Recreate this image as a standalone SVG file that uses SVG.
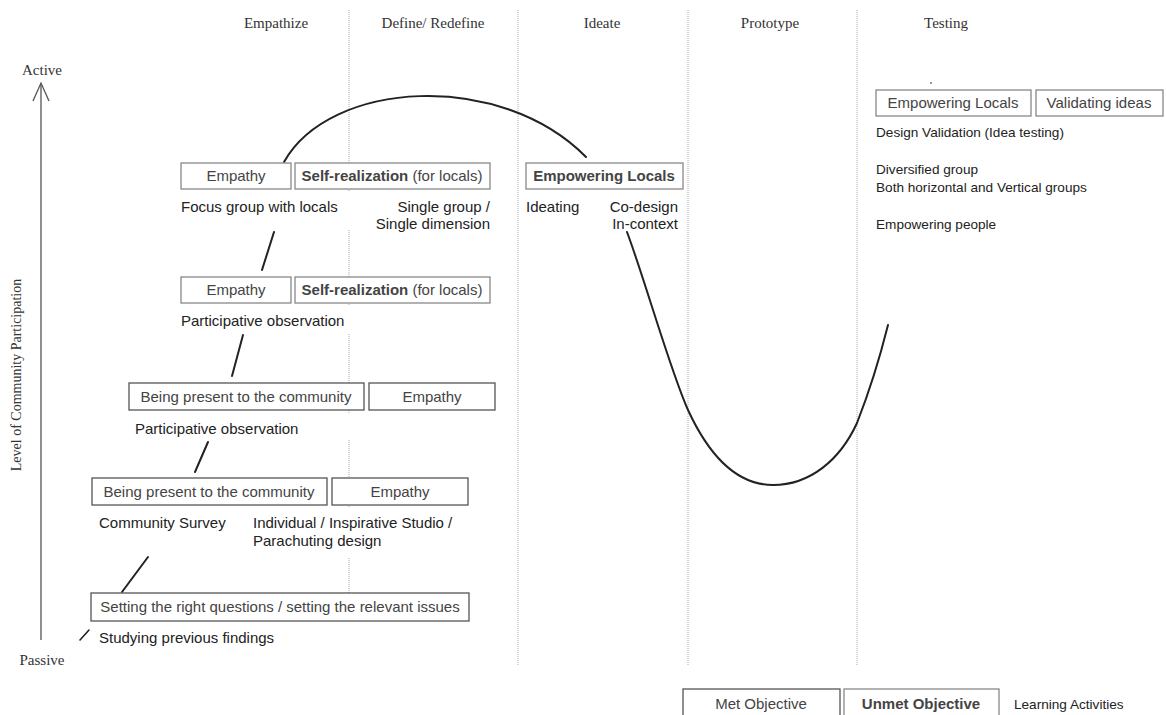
<svg xmlns="http://www.w3.org/2000/svg" width="1166" height="715" viewBox="0 0 1166 715">
<style>
.hdr{font-family:"Liberation Serif",serif;font-size:15px;fill:#333;text-anchor:middle}
.ax{font-family:"Liberation Serif",serif;font-size:14px;fill:#333;text-anchor:middle}
.t{font-family:"Liberation Sans",Arial,sans-serif;font-size:15px;fill:#222}
.s{font-size:13.6px}
.r{text-anchor:end}
.bt{font-family:"Liberation Sans",Arial,sans-serif;font-size:15px;fill:#444;text-anchor:middle}
.b{font-weight:bold}
.met{fill:#fff;stroke:#555;stroke-width:1.3}
.unmet{fill:#fff;stroke:#888;stroke-width:1.3}
.dot{stroke:#aaa;stroke-width:1;stroke-dasharray:1 1;fill:none}
.conn{stroke:#222;stroke-width:2;fill:none;stroke-linecap:round}
.axis{stroke:#555;stroke-width:1.3;fill:none}
.bg{fill:#fff}
</style>
<rect width="1166" height="715" fill="#fff"/>
<g id="phase-lines">
<line class="dot" x1="349" y1="10" x2="349" y2="593"/>
<line class="dot" x1="518" y1="10" x2="518" y2="665"/>
<line class="dot" x1="688" y1="10" x2="688" y2="665"/>
<line class="dot" x1="857" y1="10" x2="857" y2="665"/>
</g>
<g id="headers">
<text class="hdr" x="276" y="28">Empathize</text>
<text class="hdr" x="433" y="28">Define/ Redefine</text>
<text class="hdr" x="602" y="28">Ideate</text>
<text class="hdr" x="770" y="28">Prototype</text>
<text class="hdr" x="946" y="28">Testing</text>
</g>
<g id="axis">
<line class="axis" x1="41" y1="84" x2="41" y2="640"/>
<polyline class="axis" points="33,101 41,83 49,101"/>
<text class="hdr" x="42" y="75">Active</text>
<text class="hdr" x="42" y="665">Passive</text>
<text class="ax" transform="translate(21,375) rotate(-90)">Level of Community Participation</text>
</g>
<g id="label-backgrounds">
<rect class="bg" x="178" y="192" width="314" height="38"/>
<rect class="bg" x="178" y="306" width="314" height="27"/>
<rect class="bg" x="130" y="413" width="368" height="27"/>
<rect class="bg" x="92" y="508" width="378" height="50"/>
<rect class="bg" x="75" y="624" width="396" height="41"/>
</g>
<g id="connectors">
<path class="conn" d="M284,162 C330,80 500,70 586,157"/>
<path class="conn" d="M627,232 C645,280 670,370 688,410 C712,462 740,485 773,485 C810,485 840,460 857,423 C868,395 878,365 888,325"/>
<line class="conn" x1="262" y1="270" x2="274" y2="232"/>
<line class="conn" x1="232" y1="376" x2="243" y2="335"/>
<line class="conn" x1="195" y1="472" x2="208" y2="442"/>
<line class="conn" x1="122" y1="592" x2="148" y2="557"/>
<line class="conn" x1="80" y1="640" x2="89" y2="630" style="stroke-width:1.6"/>
</g>
<g id="row1-empathy">
<rect class="unmet" x="181" y="163" width="110" height="26"/>
<text class="bt" x="236" y="181">Empathy</text>
<text class="t" x="181" y="212">Focus group with locals</text>
</g>
<g id="row1-self-realization">
<rect class="unmet" x="295" y="163" width="195" height="26"/>
<text class="bt" x="392" y="181"><tspan class="b">Self-realization</tspan> (for locals)</text>
<text class="t r" x="490" y="212">Single group /</text>
<text class="t r" x="490" y="229">Single dimension</text>
</g>
<g id="row2-empathy">
<rect class="unmet" x="181" y="277" width="110" height="26"/>
<text class="bt" x="236" y="295">Empathy</text>
<text class="t" x="181" y="326">Participative observation</text>
</g>
<g id="row2-self-realization">
<rect class="unmet" x="295" y="277" width="195" height="26"/>
<text class="bt" x="392" y="295"><tspan class="b">Self-realization</tspan> (for locals)</text>
</g>
<g id="row3-being-present">
<rect class="met" x="129" y="383" width="235" height="27"/>
<text class="bt" x="246" y="402">Being present to the community</text>
<text class="t" x="135" y="434">Participative observation</text>
</g>
<g id="row3-empathy">
<rect class="met" x="369" y="383" width="126" height="27"/>
<text class="bt" x="432" y="402">Empathy</text>
</g>
<g id="row4-being-present">
<rect class="met" x="92" y="478" width="235" height="27"/>
<text class="bt" x="209" y="497">Being present to the community</text>
<text class="t" x="99" y="528">Community Survey</text>
</g>
<g id="row4-empathy">
<rect class="met" x="332" y="478" width="136" height="27"/>
<text class="bt" x="400" y="497">Empathy</text>
<text class="t" x="253" y="528">Individual / Inspirative Studio /</text>
<text class="t" x="253" y="546">Parachuting design</text>
</g>
<g id="row5-setting">
<rect class="met" x="91" y="593" width="378" height="28"/>
<text class="bt" x="280" y="612">Setting the right questions / setting the relevant issues</text>
<text class="t" x="99" y="643">Studying previous findings</text>
</g>
<g id="ideate-empowering">
<rect class="unmet" x="526" y="163" width="157" height="26"/>
<text class="bt b" x="604" y="181">Empowering Locals</text>
<text class="t" x="526" y="212">Ideating</text>
<text class="t r" x="678" y="212">Co-design</text>
<text class="t r" x="678" y="229">In-context</text>
</g>
<g id="testing-empowering">
<circle cx="931" cy="83" r="0.9" fill="#666"/>
<rect class="unmet" x="876" y="90" width="155" height="26"/>
<text class="bt" x="953" y="108">Empowering Locals</text>
<text class="t s" x="876" y="137">Design Validation (Idea testing)</text>
<text class="t s" x="876" y="174">Diversified group</text>
<text class="t s" x="876" y="192">Both horizontal and Vertical groups</text>
<text class="t s" x="876" y="229">Empowering people</text>
</g>
<g id="testing-validating">
<rect class="unmet" x="1036" y="90" width="127" height="26"/>
<text class="bt" x="1099" y="108">Validating ideas</text>
</g>
<g id="legend">
<rect class="met" x="683" y="689" width="157" height="30"/>
<text class="bt" x="761" y="709">Met Objective</text>
<rect class="unmet" x="844" y="689" width="155" height="30"/>
<text class="bt b" x="921" y="709">Unmet Objective</text>
<text class="t s" x="1014" y="709">Learning Activities</text>
</g>
</svg>
